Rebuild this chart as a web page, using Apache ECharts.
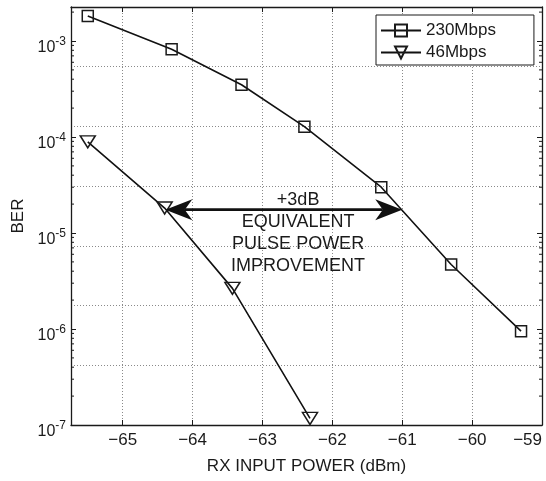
<!DOCTYPE html>
<html>
<head>
<meta charset="utf-8">
<script src="https://cdn.jsdelivr.net/npm/echarts@6/dist/echarts.min.js"></script>
<style>html,body{margin:0;padding:0;background:#fff;}#chart{width:546px;height:481px;}</style>
</head>
<body>
<div id="chart"></div>
<script>
// ---- data ----
const seriesNames = ['230Mbps', '46Mbps'];
const power230 = [-65.5, -64.3, -63.3, -62.4, -61.3, -60.3, -59.3];
const ber230   = [1.82e-3, 8.2e-4, 3.5e-4, 1.28e-4, 3.0e-5, 4.7e-6, 9.5e-7];
const power46  = [-65.5, -64.4, -63.43, -62.32];
const ber46    = [8.9e-5, 1.82e-5, 2.65e-6, 1.17e-7];
const arrowPower = [-64.39, -61.0];
const arrowBer = 1.75e-5;
const noteCenterPower = -62.49;
const noteAbove = ['+3dB'];
const noteBelow = ['EQUIVALENT', 'PULSE POWER', 'IMPROVEMENT'];
const xName = 'RX INPUT POWER (dBm)';
const yName = 'BER';
const xMin = -65.74, xMax = -59;
const yMin = 1e-7, yMax = 2.26e-3;

// ---- styling ----
const FONT = "'Liberation Sans', Arial, Helvetica, sans-serif";
const INK = '#1a1a1a';
const GRIDC = '#8a8a8a';

const minorTickValues = [];
for (let n = -7; n <= -3; n++) {
  for (let k = 2; k <= 9; k++) {
    const v = k * Math.pow(10, n);
    if (v < yMax) minorTickValues.push(v);
  }
}

function isDecade(v) {
  const l = Math.log10(v);
  return Math.abs(l - Math.round(l)) < 1e-6;
}

const chart = echarts.init(document.getElementById('chart'), null, {renderer: 'canvas'});

const tickStyle = {show: true, inside: true, length: 5, lineStyle: {color: INK, width: 1}};

const option = {
  backgroundColor: '#fff',
  animation: false,
  textStyle: {fontFamily: FONT, color: INK},
  grid: {left: 71, right: 4, top: 7, bottom: 56, containLabel: false, outerBoundsMode: 'none'},
  legend: {
    data: seriesNames,
    orient: 'vertical',
    left: 376,
    top: 15,
    padding: [7, 38, 4, 4],
    itemGap: 5,
    itemWidth: 40,
    itemHeight: 15,
    borderColor: INK,
    borderWidth: 1,
    backgroundColor: '#fff',
    textStyle: {fontSize: 17, color: INK, fontFamily: FONT},
    z: 10
  },
  xAxis: [
    {
      type: 'value', min: xMin, max: xMax, position: 'bottom',
      name: xName, nameLocation: 'middle', nameGap: 33,
      nameTextStyle: {fontSize: 17, color: INK, fontFamily: FONT},
      axisLine: {show: true, onZero: false, lineStyle: {color: INK, width: 1.3}},
      axisTick: tickStyle,
      axisLabel: {
        fontSize: 17, color: INK, fontFamily: FONT, margin: 7,
        showMinLabel: true, showMaxLabel: true, alignMaxLabel: 'right',
        formatter: v => (Math.abs(v - Math.round(v)) < 1e-6) ? '\u2212' + Math.abs(Math.round(v)) : ''
      },
      splitLine: {show: true, lineStyle: {color: GRIDC, type: [1, 2], width: 1}}
    },
    {
      type: 'value', min: xMin, max: xMax, position: 'top',
      axisLine: {show: true, onZero: false, lineStyle: {color: INK, width: 1.3}},
      axisTick: tickStyle,
      axisLabel: {show: false},
      splitLine: {show: false}
    }
  ],
  yAxis: [
    {
      type: 'log', logBase: 10, min: yMin, max: yMax, position: 'left',
      name: yName, nameLocation: 'middle', nameGap: 42,
      nameTextStyle: {fontSize: 17, color: INK, fontFamily: FONT},
      axisLine: {show: true, onZero: false, lineStyle: {color: INK, width: 1.3}},
      axisTick: tickStyle,
      axisLabel: {
        margin: 5, padding: [10, 0, 0, 0],
        formatter: v => isDecade(v) ? '{b|10}{s|' + Math.round(Math.log10(v)) + '}' : '',
        rich: {
          b: {fontSize: 16, color: INK, fontFamily: FONT, padding: [4, 0, 0, 0]},
          s: {fontSize: 12, color: INK, fontFamily: FONT, verticalAlign: 'top'}
        }
      },
      splitLine: {show: false}
    },
    {
      type: 'log', logBase: 10, min: yMin, max: yMax, position: 'right',
      axisLine: {show: true, onZero: false, lineStyle: {color: INK, width: 1.3}},
      axisTick: tickStyle,
      axisLabel: {show: false},
      splitLine: {show: false}
    },
    {
      type: 'value', min: 0, max: 7, interval: 1, position: 'left',
      axisLine: {show: false}, axisTick: {show: false}, axisLabel: {show: false},
      splitLine: {show: true, lineStyle: {color: GRIDC, type: [1, 2], width: 1}}
    }
  ],
  series: [
    {
      name: seriesNames[0], type: 'line',
      data: power230.map((p, i) => [p, ber230[i]]),
      symbol: 'rect', symbolSize: 11,
      itemStyle: {color: 'rgba(255,255,255,0)', borderColor: INK, borderWidth: 1.5},
      lineStyle: {color: '#111', width: 1.6},
      z: 4
    },
    {
      name: seriesNames[1], type: 'line',
      data: power46.map((p, i) => [p, ber46[i]]),
      symbol: 'path://M0,0 L10,0 L5,8.4 Z', symbolSize: [15, 12],
      itemStyle: {color: 'rgba(255,255,255,0)', borderColor: INK, borderWidth: 1.5},
      lineStyle: {color: '#111', width: 1.6},
      z: 4
    },
    {
      type: 'custom', coordinateSystem: 'cartesian2d', silent: true, clip: false, z: 3,
      data: minorTickValues.map(v => [xMin, v]),
      encode: {x: 0, y: 1},
      renderItem: (params, api) => {
        const cs = params.coordSys;
        const y = api.coord([xMin, api.value(1)])[1];
        return {
          type: 'group',
          children: [
            {type: 'line', shape: {x1: cs.x, y1: y, x2: cs.x + 3, y2: y}, style: {stroke: INK, lineWidth: 1}},
            {type: 'line', shape: {x1: cs.x + cs.width - 3, y1: y, x2: cs.x + cs.width, y2: y}, style: {stroke: INK, lineWidth: 1}}
          ]
        };
      }
    },
    {
      type: 'custom', coordinateSystem: 'cartesian2d', silent: true, clip: false, z: 5,
      data: [[arrowPower[0], arrowBer, arrowPower[1]]],
      encode: {x: [0, 2], y: 1},
      renderItem: (params, api) => {
        const p1 = api.coord([api.value(0), api.value(1)]);
        const p2 = api.coord([api.value(2), api.value(1)]);
        const c = api.coord([noteCenterPower, api.value(1)]);
        const y = p1[1];
        const L = 27, W = 21, N = 0.72;
        const children = [
          {type: 'line', shape: {x1: p1[0] + L * N, y1: y, x2: p2[0] - L * N, y2: y}, style: {stroke: '#111', lineWidth: 2.6}},
          {type: 'polygon', shape: {points: [[p1[0], y], [p1[0] + L, y - W / 2], [p1[0] + L * N, y], [p1[0] + L, y + W / 2]]}, style: {fill: '#111'}},
          {type: 'polygon', shape: {points: [[p2[0], y], [p2[0] - L, y - W / 2], [p2[0] - L * N, y], [p2[0] - L, y + W / 2]]}, style: {fill: '#111'}}
        ];
        noteAbove.forEach((t, i) => {
          children.push({type: 'text', style: {text: t, x: c[0], y: y - 9.5 - i * 21.7, align: 'center', verticalAlign: 'middle', fontSize: 18, fontFamily: FONT, fill: INK}});
        });
        noteBelow.forEach((t, i) => {
          children.push({type: 'text', style: {text: t, x: c[0], y: y + 12.7 + i * 21.7, align: 'center', verticalAlign: 'middle', fontSize: 18, fontFamily: FONT, fill: INK}});
        });
        return {type: 'group', children};
      }
    }
  ]
};

chart.setOption(option);
</script>
</body>
</html>
